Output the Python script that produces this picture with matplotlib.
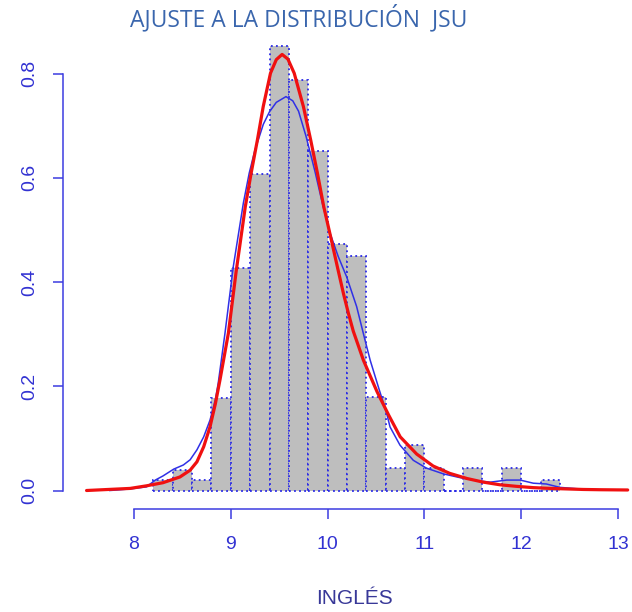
import matplotlib
matplotlib.use("Agg")
import matplotlib.pyplot as plt
import numpy as np

# Histogram of English scores (density scale), bins of width 0.2
bin_edges = [8.2, 8.4, 8.6, 8.8, 9.0, 9.2, 9.4, 9.6, 9.8, 10.0, 10.2, 10.4,
             10.6, 10.8, 11.0, 11.2, 11.4, 11.6, 11.8, 12.0, 12.2, 12.4]
density = [0.021, 0.040, 0.021, 0.177, 0.427, 0.608, 0.854, 0.787, 0.652,
           0.473, 0.450, 0.179, 0.043, 0.088, 0.043, 0.0, 0.043, 0.0, 0.043,
           0.0, 0.021]

# Fitted Johnson SU density (red)
jsu_x = [7.51, 7.96, 8.13, 8.30, 8.475, 8.58, 8.65, 8.72, 8.785, 8.84, 8.89,
         8.975, 9.055, 9.15, 9.21, 9.275, 9.335, 9.41, 9.47, 9.53, 9.59,
         9.655, 9.75, 9.825, 9.895, 9.96, 10.03, 10.10, 10.165, 10.215,
         10.265, 10.37, 10.51, 10.63, 10.75, 10.92, 11.09, 11.26, 11.44,
         11.61, 11.78, 11.95, 12.125, 12.30, 12.47, 12.64, 12.81, 13.10]
jsu_y = [0.000, 0.004, 0.009, 0.015, 0.026, 0.039, 0.055, 0.084, 0.122, 0.166,
         0.214, 0.302, 0.420, 0.545, 0.609, 0.673, 0.737, 0.801, 0.827, 0.837,
         0.828, 0.801, 0.737, 0.673, 0.609, 0.545, 0.488, 0.430, 0.377, 0.340,
         0.306, 0.250, 0.190, 0.145, 0.103, 0.070, 0.047, 0.033, 0.023,
         0.016, 0.011, 0.008, 0.0055, 0.004, 0.003, 0.002, 0.0015, 0.001]

# Kernel density estimate (blue)
kde_x = [7.75, 7.96, 8.13, 8.22, 8.30, 8.41, 8.51, 8.58, 8.65, 8.72, 8.785,
         8.84, 8.87, 8.94, 9.026, 9.13, 9.19, 9.25, 9.284, 9.336, 9.40, 9.47,
         9.57, 9.64, 9.70, 9.777, 9.87, 9.95, 10.025, 10.11, 10.197,
         10.30, 10.386, 10.44, 10.524, 10.61, 10.645, 10.748, 10.885, 11.02,
         11.195, 11.36, 11.54, 11.68, 11.85, 11.99, 12.125, 12.26, 12.40,
         12.57, 12.745, 12.85]
kde_y = [0.000, 0.003, 0.007, 0.020, 0.028, 0.041, 0.049, 0.059, 0.078, 0.103,
         0.135, 0.174, 0.206, 0.302, 0.430, 0.552, 0.609, 0.654, 0.673, 0.703,
         0.727, 0.745, 0.756, 0.748, 0.728, 0.680, 0.612, 0.548, 0.494,
         0.449, 0.410, 0.353, 0.289, 0.250, 0.199, 0.148, 0.122, 0.087, 0.058,
         0.043, 0.032, 0.025, 0.019, 0.016, 0.020, 0.020, 0.014, 0.0125,
         0.006, 0.0035, 0.002, 0.001]

x_ticks = [8, 9, 10, 11, 12, 13]
y_ticks = [0.0, 0.2, 0.4, 0.6, 0.8]
y_tick_labels = ["0.0", "0.2", "0.4", "0.6", "0.8"]

AXIS_BLUE = "#3c3ce0"
TEXT_BLUE = "#3232d2"

W, H = 632, 612
fig = plt.figure(figsize=(W / 100, H / 100), dpi=100)

# pixel geometry of the plotting region
px_per_x = 96.8
px_per_y = 521.0
x8_px, y0_px = 134.0, 490.5
left_px, right_px, top_px, bot_px = 55, 632, 30, 515
ax = fig.add_axes([left_px / W, (H - bot_px) / H,
                   (right_px - left_px) / W, (bot_px - top_px) / H])
ax.set_xlim(8 + (left_px - x8_px) / px_per_x, 8 + (right_px - x8_px) / px_per_x)
ax.set_ylim((y0_px - bot_px) / px_per_y, (y0_px - top_px) / px_per_y)

lefts = np.array(bin_edges[:-1])
widths = np.diff(bin_edges)
ax.bar(lefts, density, width=widths, align="edge", color="#bebebe",
       edgecolor="#2a2ae6", linewidth=1.3, linestyle=(0, (1, 1.8)), zorder=2)

ax.plot(kde_x, kde_y, color="#3030e6", linewidth=1.1, zorder=3)
ax.plot(jsu_x, jsu_y, color="#f01010", linewidth=2.3, zorder=4,
        solid_capstyle="round", solid_joinstyle="round")

# R-style detached axes
for s in ["top", "right"]:
    ax.spines[s].set_visible(False)
ax.spines["left"].set_position(("data", 8 + (62.5 - x8_px) / px_per_x))
ax.spines["bottom"].set_position(("data", (y0_px - 509) / px_per_y))
ax.spines["left"].set_bounds(0, 0.8)
ax.spines["bottom"].set_bounds(8, 13)
for s in ["left", "bottom"]:
    ax.spines[s].set_color(AXIS_BLUE)
    ax.spines[s].set_linewidth(1.1)

ax.set_xticks(x_ticks)
ax.set_xticklabels([str(t) for t in x_ticks])
ax.set_yticks(y_ticks)
ax.set_yticklabels(y_tick_labels, rotation=90, va="center")
ax.tick_params(axis="both", direction="out", length=7.5, width=1.1,
               color=AXIS_BLUE, labelcolor=TEXT_BLUE, labelsize=14)
ax.tick_params(axis="x", pad=12)
ax.tick_params(axis="y", pad=10)
for lab in ax.get_xticklabels() + ax.get_yticklabels():
    lab.set_fontfamily("Liberation Sans")

fig.text(354 / W, 1 - 598 / H, "INGLÉS", ha="center", va="center",
         fontsize=15, color="#383898", family="Liberation Sans")
fig.text(299 / W, 1 - 19 / H, "AJUSTE A LA DISTRIBUCIÓN  JSU", ha="center",
         va="center", fontsize=16.5, color="#3a66ad", family="Open Sans")

fig.savefig("out.png", dpi=100)
